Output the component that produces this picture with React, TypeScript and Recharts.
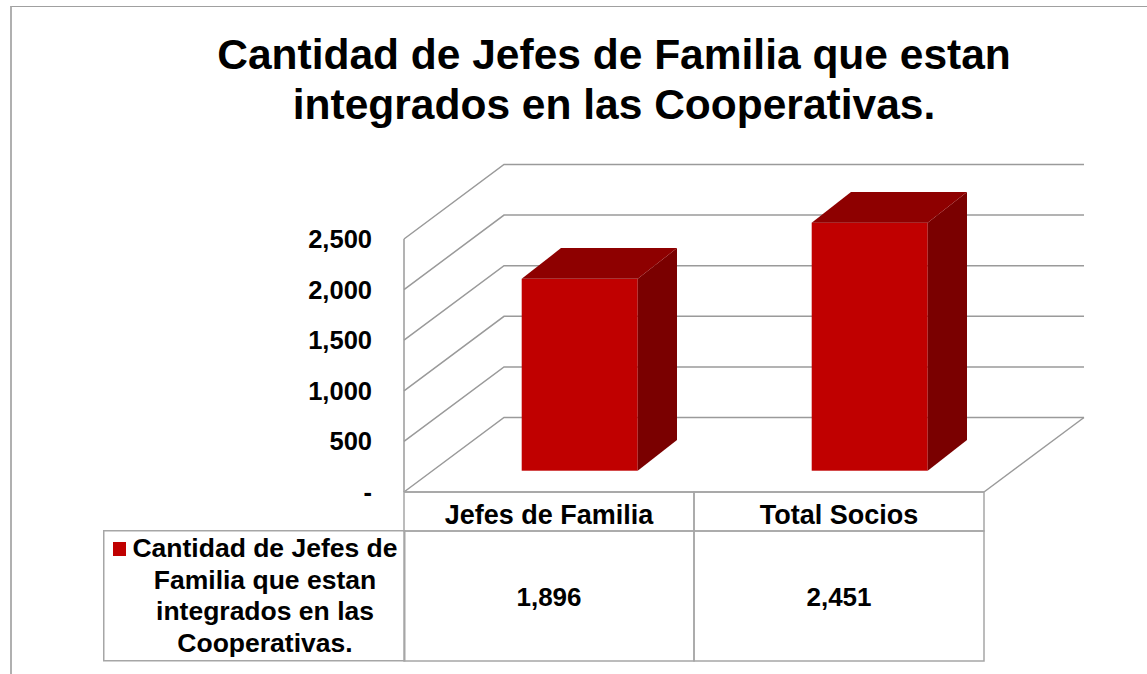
import React from 'react';
import { BarChart, Bar, XAxis, YAxis, CartesianGrid, Legend } from 'recharts';

const categories = ['Jefes de Familia', 'Total Socios'];
const jefesValues = [1896, 2451];
const seriesName = 'Cantidad de Jefes de Familia que estan integrados en las Cooperativas.';
const yTicks = [0, 500, 1000, 1500, 2000, 2500];
const titleLines = ['Cantidad de Jefes de Familia que estan', 'integrados en las Cooperativas.'];

const chartData = categories.map((category, i) => ({ category, value: jefesValues[i] }));

const FONT = '"Liberation Sans", Arial, sans-serif';
const GRID = '#9a9a9a';
const TABLE = '#a6a6a6';

// 3d depth of the walls and of the boxes
const WALL_DX = 100;
const WALL_DY = -74.5;
const BAR_OX = 30.7;
const BAR_OY = -21.3;
const BAR_DX = 39.3;
const BAR_DY = -30.7;
const FLOOR_Y = 492;

const fmt = (v: number) => (v === 0 ? '-' : v.toLocaleString('en-US'));

function wrapWords(text: string, max: number) {
  const out: string[] = [];
  let line = '';
  text.split(' ').forEach((w) => {
    const next = line ? line + ' ' + w : w;
    if (next.length > max && line) {
      out.push(line);
      line = w;
    } else {
      line = next;
    }
  });
  if (line) out.push(line);
  return out;
}

const Bar3D = (props: any) => {
  const { x, y, width, height, fill } = props;
  const fx = x + BAR_OX;
  const fy = y + BAR_OY;
  const top = `${fx},${fy} ${fx + BAR_DX},${fy + BAR_DY} ${fx + width + BAR_DX},${fy + BAR_DY} ${fx + width},${fy}`;
  const side = `${fx + width},${fy} ${fx + width + BAR_DX},${fy + BAR_DY} ${fx + width + BAR_DX},${fy + height + BAR_DY} ${fx + width},${fy + height}`;
  return (
    <g>
      <rect x={fx} y={fy} width={width} height={height} fill={fill} />
      <polygon points={side} fill="#7a0000" />
      <polygon points={top} fill="#8e0000" />
    </g>
  );
};

const GridLine3D = (props: any) => {
  const { x1, y1, x2, index } = props;
  const isFloor = Math.abs(y1 - FLOOR_Y) < 1;
  return (
    <g key={`g-${index}`}>
      <path
        d={`M${x1},${y1} L${x1 + WALL_DX},${y1 + WALL_DY} L${x2 + WALL_DX},${y1 + WALL_DY}`}
        stroke={GRID}
        strokeWidth={1.5}
        fill="none"
      />
      {isFloor && (
        <path d={`M${x2},${y1} L${x2 + WALL_DX},${y1 + WALL_DY}`} stroke={GRID} strokeWidth={1.5} fill="none" />
      )}
    </g>
  );
};

const TableTick = (props: any) => {
  const { x, y, payload } = props;
  const band = payload && payload.offset ? payload.offset * 2 : 290;
  const idx = categories.indexOf(payload.value);
  const left = x - band / 2;
  return (
    <g>
      <rect x={left} y={y} width={band} height={39} fill="none" stroke={TABLE} strokeWidth={1.5} />
      <rect x={left} y={y + 39} width={band} height={130} fill="none" stroke={TABLE} strokeWidth={1.5} />
      <text x={x} y={y + 25} textAnchor="middle" dominantBaseline="middle" fontFamily={FONT} fontWeight="bold" fontSize={27} fill="#000">
        {payload.value}
      </text>
      <text x={x} y={y + 107} textAnchor="middle" dominantBaseline="middle" fontFamily={FONT} fontWeight="bold" fontSize={26} fill="#000">
        {fmt(jefesValues[idx])}
      </text>
    </g>
  );
};

const LegendCell = (props: any) => {
  const item = props.payload && props.payload[0];
  if (!item) return null;
  const lines = wrapWords(item.value, 20);
  return (
    <svg width={303} height={132} style={{ display: 'block' }}>
      <rect x={0.75} y={0.75} width={301} height={130} fill="none" stroke={TABLE} strokeWidth={1.5} />
      <rect x={10} y={12} width={13} height={14} fill={item.color} />
      {lines.map((l, i) => (
        <text
          key={i}
          x={162}
          y={20 + i * 31.5}
          textAnchor="middle"
          dominantBaseline="middle"
          fontFamily={FONT}
          fontWeight="bold"
          fontSize={26.5}
          fill="#000"
        >
          {l}
        </text>
      ))}
    </svg>
  );
};

export default function App() {
  return (
    <div>
      <div
        style={{
          position: 'absolute',
          left: 10,
          top: 6,
          width: 1137,
          height: 668,
          borderTop: '1.5px solid #a0a0a0',
          borderLeft: '2px solid #b0b0b0',
          boxSizing: 'border-box',
        }}
      />
      <div
        style={{
          position: 'absolute',
          left: 614,
          top: 30,
          transform: 'translateX(-50%)',
          whiteSpace: 'nowrap',
          textAlign: 'center',
          fontFamily: FONT,
          fontWeight: 'bold',
          fontSize: 42.5,
          lineHeight: '50px',
          color: '#000',
          zIndex: 2,
        }}
      >
        {titleLines.map((t) => (
          <div key={t}>{t}</div>
        ))}
      </div>
      <div style={{ position: 'absolute', left: 0, top: 0 }}>
        <BarChart
          width={1147}
          height={674}
          data={chartData}
          margin={{ top: 239, right: 163, bottom: 142, left: 304 }}
        >
          <CartesianGrid horizontal={GridLine3D} vertical={false} />
          <XAxis
            dataKey="category"
            interval={0}
            height={40}
            tickLine={false}
            tickSize={0}
            tickMargin={0}
            axisLine={{ stroke: GRID, strokeWidth: 1.5 }}
            tick={TableTick}
          />
          <YAxis
            width={100}
            domain={[0, 2500]}
            ticks={yTicks}
            interval={0}
            tickLine={false}
            tickSize={0}
            tickMargin={32}
            tickFormatter={fmt}
            axisLine={{ stroke: GRID, strokeWidth: 1.5 }}
            tick={{ fill: '#000', fontSize: 25.5, fontWeight: 'bold', fontFamily: FONT }}
          />
          <Legend
            verticalAlign="middle"
            align="center"
            content={LegendCell}
            wrapperStyle={{ left: 103, top: 530, width: 303, height: 132 }}
          />
          <Bar dataKey="value" name={seriesName} fill="#c00000" barSize={116} shape={Bar3D} isAnimationActive={false} />
        </BarChart>
      </div>
    </div>
  );
}
